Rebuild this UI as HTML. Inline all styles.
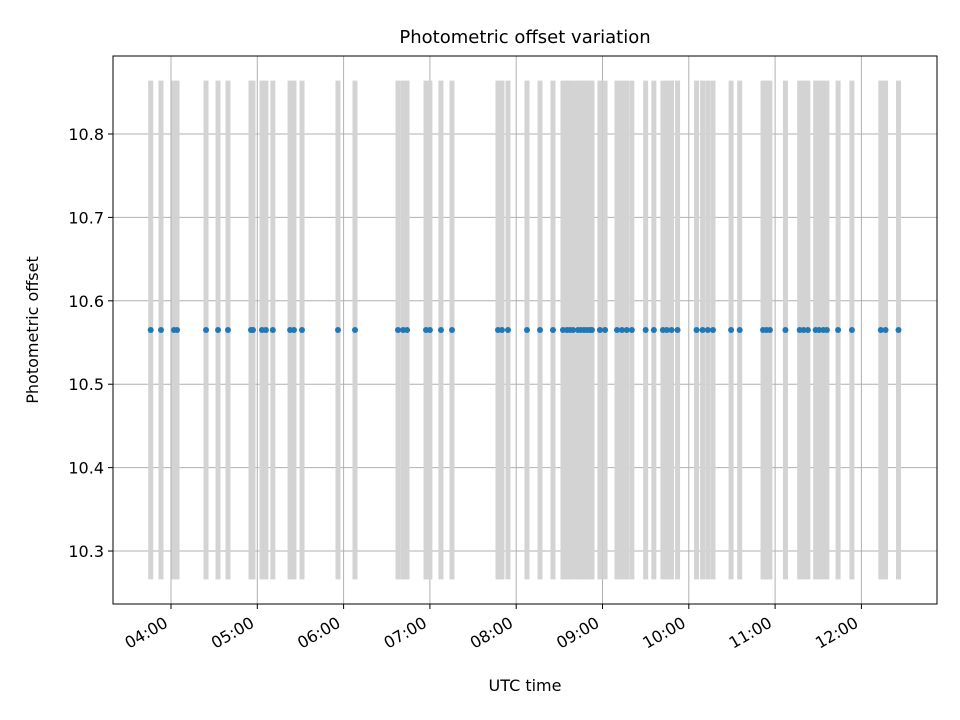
<!DOCTYPE html>
<html><head><meta charset="utf-8"><style>
body{margin:0;background:#fff;}
svg{display:block;font-family:"DejaVu Sans","Liberation Sans",sans-serif;}
</style></head><body>
<svg id="chart" width="960" height="720">
<rect width="960" height="720" fill="#fff"/>
<text x="525" y="43" text-anchor="middle" font-size="18">Photometric offset variation</text>
<g id="grid"></g><g id="bars"></g><g id="pts"></g><g id="axes"></g>
<text x="525" y="691" text-anchor="middle" font-size="16">UTC time</text>
<text transform="translate(38,330) rotate(-90)" text-anchor="middle" font-size="16">Photometric offset</text>
</svg>
<script>
const times=[3.765,3.884,4.035,4.07,4.406,4.545,4.66,4.927,4.95,5.054,5.1,5.18,5.38,5.425,5.518,5.935,6.132,6.63,6.69,6.735,6.955,7.0,7.128,7.256,7.789,7.835,7.905,8.125,8.276,8.426,8.542,8.589,8.623,8.658,8.716,8.75,8.786,8.82,8.855,8.878,8.97,9.03,9.168,9.225,9.28,9.34,9.5,9.595,9.7,9.745,9.8,9.87,10.09,10.16,10.22,10.28,10.49,10.59,10.86,10.9,10.94,11.12,11.285,11.33,11.38,11.47,11.51,11.56,11.6,11.73,11.89,12.225,12.28,12.43];
const offsetValue=10.565;
const errHalf=0.299;
const yTicks=[10.3,10.4,10.5,10.6,10.7,10.8];
const xTicks=[4,5,6,7,8,9,10,11,12];
const xTickLabels=["04:00","05:00","06:00","07:00","08:00","09:00","10:00","11:00","12:00"];
const L=113,R=937,T=56,B=604;
const x0=3.328,x1=12.876,y0=10.2365,y1=10.8935;
const X=v=>L+(v-x0)/(x1-x0)*(R-L);
const Y=v=>B-(v-y0)/(y1-y0)*(B-T);
const NS="http://www.w3.org/2000/svg";
function mk(parent,tag,attrs){const e=document.createElementNS(NS,tag);for(const k in attrs)e.setAttribute(k,attrs[k]);document.getElementById(parent).appendChild(e);return e;}
xTicks.forEach((t,i)=>{
 let g=mk('grid','line',{x1:X(t),x2:X(t),y1:T,y2:B,stroke:'#b0b0b0','stroke-width':1});
 
 
 mk('axes','line',{x1:X(t),x2:X(t),y1:B,y2:B+5,stroke:'#000','stroke-width':1});
 let tx=mk('axes','text',{x:0,y:0,'font-size':16,'text-anchor':'end',transform:`translate(${X(t)-2},${B+22}) rotate(-30)`});
 tx.textContent=xTickLabels[i];
 
 
});
yTicks.forEach(t=>{
 let g=mk('grid','line',{x1:L,x2:R,y1:Y(t),y2:Y(t),stroke:'#b0b0b0','stroke-width':1});
 
 
 mk('axes','line',{x1:L-5,x2:L,y1:Y(t),y2:Y(t),stroke:'#000','stroke-width':1});
 let tx=mk('axes','text',{x:L-9,y:Y(t)+6,'font-size':16,'text-anchor':'end'});
 tx.textContent=t.toFixed(1);
 
 
});
times.forEach(t=>{
 let b=mk('bars','line',{x1:X(t),x2:X(t),y1:Y(offsetValue+errHalf),y2:Y(offsetValue-errHalf),stroke:'#d3d3d3','stroke-width':5});
 
 
 let p=mk('pts','circle',{cx:X(t),cy:Y(offsetValue),r:3,fill:'#1f77b4'});
 
 
});
let fr=mk('axes','rect',{x:L,y:T,width:R-L,height:B-T,fill:'none',stroke:'#000','stroke-width':1});


</script>
</body></html>
